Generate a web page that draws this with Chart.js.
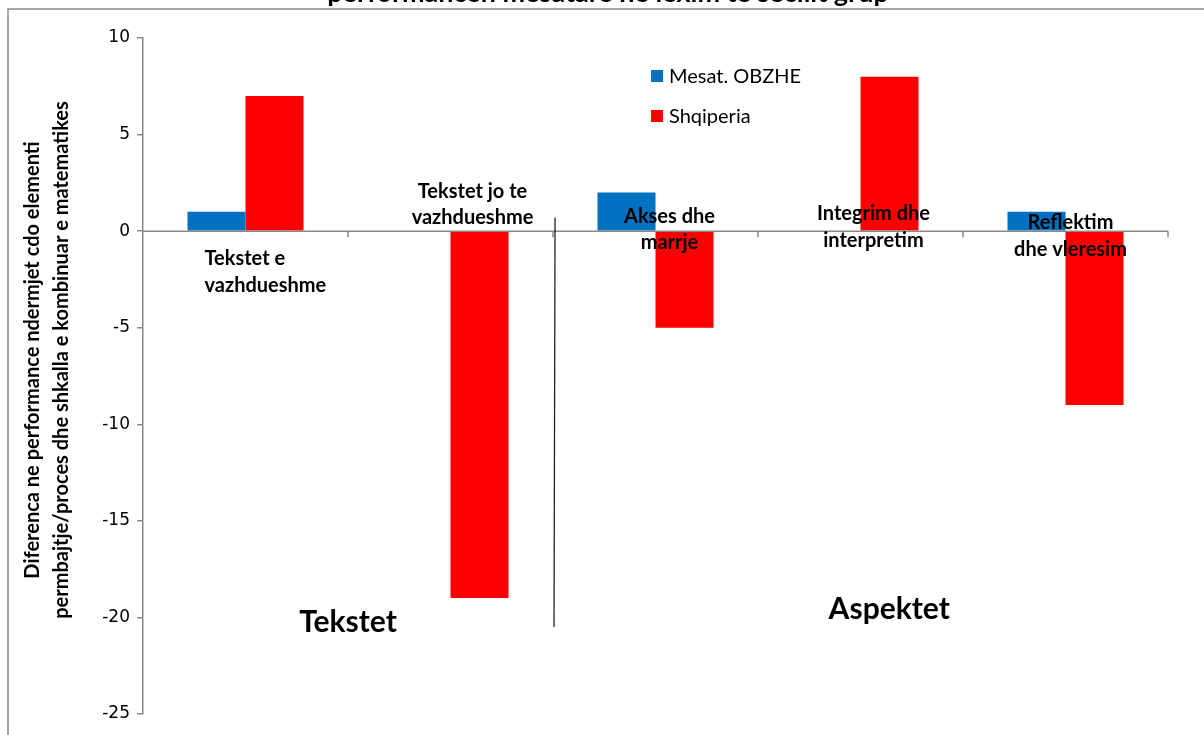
<!DOCTYPE html>
<html>
<head>
<meta charset="utf-8">
<script src="https://cdn.jsdelivr.net/npm/chart.js@4/dist/chart.umd.min.js"></script>
<style>
  html, body { margin: 0; padding: 0; background: #fff; }
  canvas { display: block; }
</style>
</head>
<body>
<canvas id="chart" width="1204" height="735"></canvas>
<script>
// data
const categories = ["Tekstet e vazhdueshme", "Tekstet jo te vazhdueshme", "Akses dhe marrje", "Integrim dhe interpretim", "Reflektim dhe vleresim"];
const categoryLines = [
  ["Tekstet e", "vazhdueshme"],
  ["Tekstet jo te", "vazhdueshme"],
  ["Akses dhe", "marrje"],
  ["Integrim dhe", "interpretim"],
  ["Reflektim", "dhe vleresim"],
];
const obzheValues = [1, 0, 2, 0, 1];
const shqiperiaValues = [7, -19, -5, 8, -9];
const yTicks = [10, 5, 0, -5, -10, -15, -20, -25];
const seriesNames = ["Mesat. OBZHE", "Shqiperia"];
const groupLabels = ["Tekstet", "Aspektet"];
const chartTitle = "performancen mesatare ne lexim te secilit grup";
const yTitle = ["Diferenca ne performance ndermjet cdo elementi", "permbajtje/proces dhe shkalla e kombinuar e matematikes"];

const BLUE = "#0070C0";
const RED = "#FF0000";
const AXIS = "#898989";

// where each category label sits, relative to the category centre / zero line
const labelPlace = [
  { dx: -41, align: "left", dy: [27, 54] },
  { dx: 22, align: "center", dy: [-40, -14] },
  { dx: 14, align: "center", dy: [-15, 11] },
  { dx: 13, align: "center", dy: [-18, 9] },
  { dx: 5, align: "center", dy: [-9, 18] },
];

const extras = {
  id: "extras",
  beforeDraw(chart) {
    const c = chart.ctx;
    c.save();
    c.fillStyle = "#fff";
    c.fillRect(0, 0, chart.width, chart.height);
    // outer frame (left and top only visible)
    c.strokeStyle = AXIS;
    c.lineWidth = 1.5;
    c.beginPath();
    c.moveTo(8, chart.height + 2);
    c.lineTo(8, 9);
    c.lineTo(chart.width + 2, 9);
    c.stroke();
    // title, cut off at the top
    c.fillStyle = "#000";
    c.font = "bold 27px Lato";
    c.textAlign = "center";
    c.textBaseline = "alphabetic";
    c.fillText(chartTitle, 608, 2);
    c.restore();
  },
  afterDatasetsDraw(chart) {
    const c = chart.ctx;
    const x = chart.scales.x;
    const y = chart.scales.y;
    const area = chart.chartArea;
    const y0 = y.getPixelForValue(0);
    const step = x.getPixelForValue(1) - x.getPixelForValue(0);
    c.save();

    // zero line and category tick marks
    c.strokeStyle = AXIS;
    c.lineWidth = 1.5;
    c.beginPath();
    c.moveTo(area.left, y0);
    c.lineTo(area.right, y0);
    for (let i = 0; i < categories.length; i++) {
      const tx = x.getPixelForValue(i) + step / 2;
      c.moveTo(tx, y0);
      c.lineTo(tx, y0 + 6);
    }
    c.stroke();

    // category labels
    c.fillStyle = "#000";
    c.font = "bold 20px Lato";
    c.textBaseline = "middle";
    categoryLines.forEach((lines, i) => {
      const p = labelPlace[i];
      c.textAlign = p.align;
      lines.forEach((t, k) => {
        c.fillText(t, x.getPixelForValue(i) + p.dx, y0 + p.dy[k]);
      });
    });

    // separator between the two groups
    c.strokeStyle = "#222";
    c.lineWidth = 1.3;
    c.beginPath();
    c.moveTo(x.getPixelForValue(1.51), y.getPixelForValue(0.7));
    c.lineTo(x.getPixelForValue(1.505), y.getPixelForValue(-20.5));
    c.stroke();

    // group labels
    c.font = "bold 30px Lato";
    c.textAlign = "center";
    c.fillText(groupLabels[0], x.getPixelForValue(0.5), y.getPixelForValue(-20.25));
    c.fillText(groupLabels[1], x.getPixelForValue(3.14), y.getPixelForValue(-19.6));

    // legend
    const colors = [BLUE, RED];
    c.font = "20px Lato";
    c.textAlign = "left";
    seriesNames.forEach((name, i) => {
      const ly = 76 + i * 40;
      c.fillStyle = colors[i];
      c.fillRect(651, ly - 6, 12, 12);
      c.fillStyle = "#000";
      c.fillText(name, 669, ly + 1);
    });

    // y axis title
    c.font = "bold 20px Lato";
    c.translate(0, 360);
    c.rotate(-Math.PI / 2);
    c.textAlign = "center";
    c.fillText(yTitle[0], 0, 33);
    c.fillText(yTitle[1], 0, 62);
    c.restore();
  },
};

new Chart(document.getElementById("chart").getContext("2d"), {
  type: "bar",
  data: {
    labels: categories,
    datasets: [
      {
        label: seriesNames[0],
        data: obzheValues,
        backgroundColor: BLUE,
        borderWidth: 0,
        categoryPercentage: 0.566,
        barPercentage: 1,
      },
      {
        label: seriesNames[1],
        data: shqiperiaValues,
        backgroundColor: RED,
        borderWidth: 0,
        categoryPercentage: 0.566,
        barPercentage: 1,
      },
    ],
  },
  options: {
    responsive: false,
    animation: false,
    devicePixelRatio: 1,
    layout: {
      padding: { left: 8, top: 38, right: 36, bottom: 21 },
    },
    plugins: {
      legend: { display: false },
      tooltip: { enabled: false },
    },
    scales: {
      x: {
        display: false,
      },
      y: {
        min: -25,
        max: 10,
        afterFit(scale) {
          scale.width = 135;
        },
        afterBuildTicks(scale) {
          scale.ticks = yTicks.map((v) => ({ value: v }));
        },
        grid: {
          drawOnChartArea: false,
          tickLength: 6,
          color: AXIS,
          lineWidth: 1.5,
        },
        border: {
          color: AXIS,
          width: 1.5,
        },
        ticks: {
          padding: 7,
          color: "#000",
          font: {
            size: 17,
            family: "DejaVu Sans",
          },
        },
      },
    },
  },
  plugins: [extras],
});
</script>
</body>
</html>
